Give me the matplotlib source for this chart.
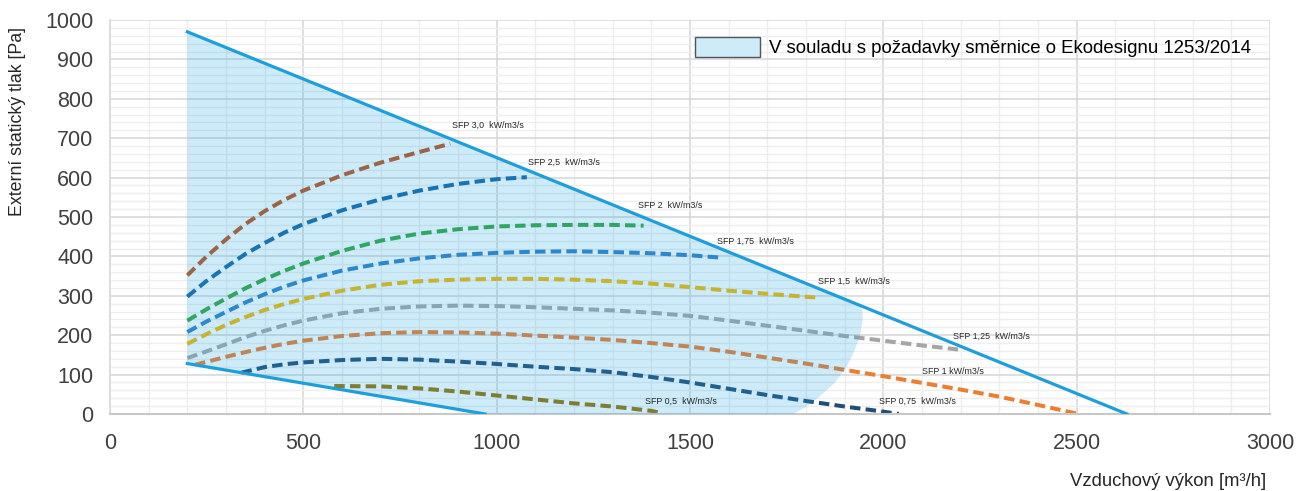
import matplotlib
matplotlib.use('Agg')
import matplotlib.pyplot as plt
from matplotlib.patches import Patch
from matplotlib.ticker import MultipleLocator

plt.rcParams['font.family'] = ['Liberation Sans', 'DejaVu Sans']

# Working range boundaries
top_x = [200, 2630]
top_y = [970, 0]
low_x = [200, 970]
low_y = [128, 0]

# Ecodesign-compliant region (outline)
area_x = [200, 200, 1945, 1947, 1940, 1925, 1905, 1875, 1830, 1795, 1766, 970]
area_y = [128, 970, 274, 240, 200, 160, 120, 80, 40, 15, 0, 0]

# SFP curves
sfp30_x = [200, 250, 300, 350, 400, 450, 500, 600, 700, 800, 880]
sfp30_y = [352, 400, 443, 482, 515, 543, 567, 606, 638, 665, 686]

sfp25_x = [200, 250, 300, 350, 400, 450, 500, 600, 700, 800, 900, 1000, 1078]
sfp25_y = [298, 338, 373, 406, 434, 460, 482, 517, 545, 567, 584, 596, 601]

sfp20_x = [200, 250, 300, 350, 400, 450, 500, 600, 700, 800, 900, 1000, 1100, 1200, 1300, 1380]
sfp20_y = [237, 266, 293, 319, 342, 363, 382, 414, 440, 458, 469, 476, 479, 480, 480, 478]

sfp175_x = [200, 250, 300, 350, 400, 450, 500, 600, 700, 800, 900, 1000, 1100, 1200, 1300, 1400, 1500, 1578]
sfp175_y = [208, 235, 259, 283, 304, 323, 339, 364, 382, 395, 404, 409, 412, 413, 411, 408, 403, 397]

sfp15_x = [200, 250, 300, 350, 400, 450, 500, 600, 700, 800, 900, 1000, 1100, 1200, 1300, 1400, 1500, 1600, 1700, 1834]
sfp15_y = [178, 203, 226, 246, 264, 279, 292, 313, 328, 337, 341, 343, 343, 341, 337, 331, 322, 313, 305, 295]

sfp125_x = [200, 250, 300, 350, 400, 450, 500, 600, 700, 800, 900, 1000, 1100, 1200, 1300, 1400, 1500,
            1600, 1700, 1800, 1900, 2000, 2100, 2200]
sfp125_y = [142, 159, 177, 195, 211, 225, 237, 256, 267, 273, 275, 274, 271, 267, 263, 257, 249,
            237, 224, 211, 198, 186, 174, 163]

sfp10_x = [220, 300, 350, 400, 450, 500, 600, 700, 800, 900, 1000, 1100, 1200, 1300, 1400, 1500, 1600,
           1700, 1800, 1900, 2000, 2100, 2200, 2300, 2400, 2505]
sfp10_y = [125, 145, 157, 168, 178, 186, 198, 205, 208, 207, 204, 199, 194, 188, 180, 171, 158,
           143, 128, 112, 96, 79, 62, 44, 23, 0]

sfp075_x = [340, 400, 450, 500, 600, 700, 800, 900, 1000, 1100, 1200, 1300, 1400, 1500, 1600, 1700,
            1800, 1900, 2000, 2040]
sfp075_y = [105, 119, 126, 131, 137, 140, 138, 133, 127, 120, 114, 106, 94, 80, 64, 48,
            33, 19, 6, 0]

sfp05_x = [580, 700, 800, 900, 1000, 1100, 1200, 1300, 1400, 1427]
sfp05_y = [71, 70, 65, 57, 47, 37, 27, 19, 8, 2]

curves = [
    (sfp30_x, sfp30_y, '#C0531A'),
    (sfp25_x, sfp25_y, '#1565A8'),
    (sfp20_x, sfp20_y, '#35A83F'),
    (sfp175_x, sfp175_y, '#2F80C8'),
    (sfp15_x, sfp15_y, '#F5B800'),
    (sfp125_x, sfp125_y, '#A5A5A5'),
    (sfp10_x, sfp10_y, '#ED7D31'),
    (sfp075_x, sfp075_y, '#1F4E79'),
    (sfp05_x, sfp05_y, '#997300'),
]

label_texts = ['SFP 3,0  kW/m3/s', 'SFP 2,5  kW/m3/s', 'SFP 2  kW/m3/s', 'SFP 1,75  kW/m3/s',
               'SFP 1,5  kW/m3/s', 'SFP 1,25  kW/m3/s', 'SFP 1 kW/m3/s', 'SFP 0,75  kW/m3/s',
               'SFP 0,5  kW/m3/s']
label_x = [884, 1081, 1365, 1570, 1831, 2180, 2100, 1989, 1384]
label_y = [733, 640, 528, 439, 338, 198, 107, 33, 33]

fig = plt.figure(figsize=(12.98, 4.91), dpi=100)
ax = fig.add_axes([110 / 1298, 1 - 414 / 491, 1160 / 1298, 394 / 491])

for xs, ys, c in curves:
    ax.plot(xs, ys, color=c, linewidth=2.9, dashes=(2.6, 1.3), zorder=2)

ax.fill(area_x, area_y, color='#1EA5E1', alpha=0.22, linewidth=0, zorder=3)
ax.plot(top_x, top_y, color='#1E9FDC', linewidth=2.3, zorder=4)
ax.plot(low_x, low_y, color='#1E9FDC', linewidth=2.3, zorder=4)

for t, lx, ly in zip(label_texts, label_x, label_y):
    ax.text(lx, ly, t, fontsize=6.4, color='#262626', ha='left', va='center', zorder=5)

ax.set_xlim(0, 3000)
ax.set_ylim(0, 1000)
ax.xaxis.set_major_locator(MultipleLocator(500))
ax.xaxis.set_minor_locator(MultipleLocator(100))
ax.yaxis.set_major_locator(MultipleLocator(100))
ax.yaxis.set_minor_locator(MultipleLocator(20))
ax.set_axisbelow(True)
ax.grid(which='major', color='#D9D9D9', linewidth=1.2)
ax.grid(which='minor', color='#EEEEEE', linewidth=1.0)
ax.tick_params(which='both', length=0, labelsize=15.5, labelcolor='#404040')
ax.tick_params(axis='y', pad=12)
ax.tick_params(axis='x', pad=13.5)

for s in ['top', 'right']:
    ax.spines[s].set_visible(False)
ax.spines['bottom'].set_color('#C8C8C8')
ax.spines['bottom'].set_linewidth(1.5)
ax.spines['left'].set_color('#D9D9D9')
ax.spines['left'].set_linewidth(1.2)

fig.text(18 / 1298, 1 - 121 / 491, 'Externí statický tlak [Pa]', rotation=90,
         ha='center', va='center', fontsize=12.8, color='#262626')
fig.text(1266 / 1298, 1 - 481 / 491, 'Vzduchový výkon [m³/h]',
         ha='right', va='center', fontsize=13.3, color='#262626')

handle = Patch(facecolor='#CDEBF8', edgecolor='#555555', linewidth=1.0)
ax.legend([handle], ['V souladu s požadavky směrnice o Ekodesignu 1253/2014'],
          loc='upper left', bbox_to_anchor=((695 - 110) / 1160, (414 - 37) / 394),
          frameon=False, fontsize=13.4, handlelength=3.5, handleheight=1.3,
          borderpad=0, borderaxespad=0, handletextpad=0.5)

fig.savefig('out.png', dpi=100)
